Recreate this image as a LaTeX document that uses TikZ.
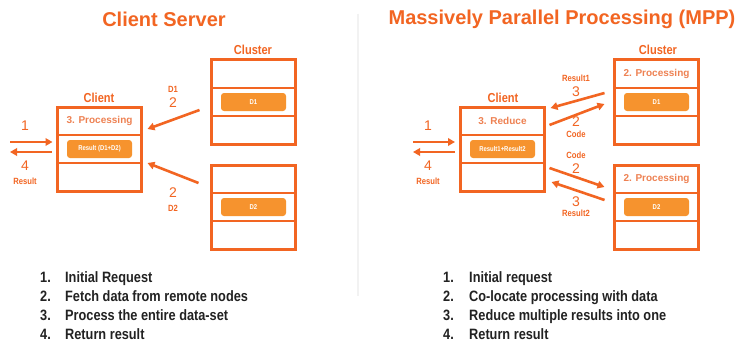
\documentclass[tikz,border=0pt]{standalone}
\usepackage{fontspec}
\setmainfont{Liberation Sans}
\newfontfamily\narrowfont[FakeStretch=0.85]{Liberation Sans}
\usetikzlibrary{positioning,arrows.meta}

\definecolor{mppline}{HTML}{F26522}
\definecolor{mpppill}{HTML}{F6932E}
\definecolor{mppcell}{HTML}{EE8152}
\definecolor{mpplist}{HTML}{222222}

\tikzset{
  cell/.style={draw=mppline, line width=2pt, minimum width=84pt, minimum height=28pt,
    inner sep=0pt, outer sep=0pt, text=mppcell, font=\bfseries\fontsize{10}{12}\selectfont},
  boxframe/.style={draw=mppline, line width=3pt},
  pill/.style={fill=mpppill, rounded corners=3pt, minimum width=65pt, minimum height=18pt,
    inner sep=0pt, text=white, font=\narrowfont\bfseries\fontsize{7}{8}\selectfont},
  flow/.style={->, draw=mppline, line width=2.6pt},
  heading/.style={text=mppline, font=\bfseries\fontsize{20}{24}\selectfont},
  head/.style={text=mppline, font=\narrowfont\bfseries\fontsize{13}{15}\selectfont, inner sep=0pt},
  tag/.style={text=mppline, font=\narrowfont\bfseries\fontsize{9}{10}\selectfont, inner sep=0pt},
  num/.style={text=mppline, font=\fontsize{14}{16}\selectfont, inner sep=0pt},
  item/.style={text=mpplist, anchor=base west, inner sep=0pt,
    font=\narrowfont\bfseries\fontsize{15}{18}\selectfont},
}

\begin{document}
\begin{tikzpicture}[x=1pt, y=-1pt, >={Triangle[length=7pt,width=7.5pt]}]
    \fill[white] (0,0) rectangle (755,345);
    \useasboundingbox (0,0) rectangle (755,345);

    % Divider
    \draw[gray!10, line width=1.5pt] (358,14) -- (358,296);

    % ---- Client Server ----
    \node[heading] (ltitle) at (164,19) {Client Server};

    % Client
    \node[cell] (lcla) at (99.5,121) {3. Processing};
    \node[cell, below=0pt of lcla] (lclb) {};
    \node[cell, below=0pt of lclb] (lclc) {};
    \draw[boxframe] (lcla.north west) rectangle (lclc.south east);
    \node[pill] (lsum) at (lclb) {Result (D1+D2)};
    \node[head] (lclient) at (99,98) {Client};

    % Cluster
    \node[head] (lcluster) at (253,50) {Cluster};
    \node[cell] (lc1a) at (253.5,74) {};
    \node[cell, below=0pt of lc1a] (lc1b) {};
    \node[cell, below=0pt of lc1b] (lc1c) {};
    \draw[boxframe] (lc1a.north west) rectangle (lc1c.south east);
    \node[pill] (ld1) at (lc1b) {D1};

    \node[cell] (lc2a) at (253.5,179) {};
    \node[cell, below=0pt of lc2a] (lc2b) {};
    \node[cell, below=0pt of lc2b] (lc2c) {};
    \draw[boxframe] (lc2a.north west) rectangle (lc2c.south east);
    \node[pill] (ld2) at (lc2b) {D2};

    % Fetch data
    \draw[flow] ([xshift=-12pt,yshift=-8pt]lc1b.west) -- ([xshift=6pt,yshift=-8pt]lcla.east);
    \draw[flow] ([xshift=-13pt,yshift=-4pt]lc2a.west) -- ([xshift=6pt]lclb.south east);
    \node[tag] (lfd1) at (173,89) {D1};
    \node[num] (lfn1) at (173,103) {2};
    \node[num] (lfn2) at (173,193) {2};
    \node[tag] (lfd2) at (173,208) {D2};

    % Request / result
    \coordinate (lreq) at (10,142);
    \coordinate (lrep) at (10,152);
    \draw[flow] (lreq) -- ([xshift=-5pt,yshift=7pt]lclb.west);
    \draw[flow] ([xshift=-6pt,yshift=-3pt]lclb.west) -- (lrep);
    \node[num] (lqn) at (25,126) {1};
    \node[num] (lrn) at (25,166) {4};
    \node[tag] (lrt) at (25,181) {Result};

    % Steps
    \foreach \t [count=\i] in {Initial Request, Fetch data from remote nodes,
        Process the entire data-set, Return result} {
      \node[item] (lnum\i) at (40,{263+19*\i}) {\i.};
      \node[item] (ltxt\i) at (65,{263+19*\i}) {\t};
    }

    % ---- MPP ----
    \node[heading] (rtitle) at (562,19) {Massively Parallel Processing (MPP)};

    % Client
    \node[cell] (rcla) at (502.5,121) {3. Reduce};
    \node[cell, below=0pt of rcla] (rclb) {};
    \node[cell, below=0pt of rclb] (rclc) {};
    \draw[boxframe] (rcla.north west) rectangle (rclc.south east);
    \node[pill] (rsum) at (rclb) {Result1+Result2};
    \node[head] (rclient) at (503,98) {Client};

    % Cluster
    \node[head] (rcluster) at (658,50) {Cluster};
    \node[cell] (rc1a) at (656.5,74) {2. Processing};
    \node[cell, below=0pt of rc1a] (rc1b) {};
    \node[cell, below=0pt of rc1b] (rc1c) {};
    \draw[boxframe] (rc1a.north west) rectangle (rc1c.south east);
    \node[pill] (rd1) at (rc1b) {D1};

    \node[cell] (rc2a) at (656.5,179) {2. Processing};
    \node[cell, below=0pt of rc2a] (rc2b) {};
    \node[cell, below=0pt of rc2b] (rc2c) {};
    \draw[boxframe] (rc2a.north west) rectangle (rc2c.south east);
    \node[pill] (rd2) at (rc2b) {D2};

    % Code out, results back
    \draw[flow] ([xshift=-10pt,yshift=-5pt]rc1a.south west) -- ([xshift=6pt,yshift=-1pt]rcla.north east);
    \draw[flow] ([xshift=5pt,yshift=-4pt]rcla.east) -- ([xshift=-10pt,yshift=-2pt]rc1b.west);
    \draw[flow] ([xshift=5pt,yshift=-5pt]rclb.south east) -- ([xshift=-10pt,yshift=-8pt]rc2a.west);
    \draw[flow] ([xshift=-10pt,yshift=-7pt]rc2b.north west) -- ([xshift=7pt,yshift=-5pt]rclc.east);
    \node[tag] (rr1) at (576,78.5) {Result1};
    \node[num] (rn3a) at (576,92) {3};
    \node[num] (rn2a) at (576,121.5) {2};
    \node[tag] (rc1) at (576,134) {Code};
    \node[tag] (rc2) at (576,155) {Code};
    \node[num] (rn2b) at (576,169) {2};
    \node[num] (rn3b) at (576,202) {3};
    \node[tag] (rr2) at (576,213.5) {Result2};

    % Request / result
    \coordinate (rreq) at (413,142);
    \coordinate (rrep) at (413,152);
    \draw[flow] (rreq) -- ([xshift=-5.5pt,yshift=7pt]rclb.west);
    \draw[flow] ([xshift=-5.5pt,yshift=-3pt]rclb.west) -- (rrep);
    \node[num] (rqn) at (428,126) {1};
    \node[num] (rrn) at (428,166) {4};
    \node[tag] (rrt) at (428,181) {Result};

    % Steps
    \foreach \t [count=\i] in {Initial request, Co-locate processing with data,
        Reduce multiple results into one, Return result} {
      \node[item] (rnum\i) at (443,{263+19*\i}) {\i.};
      \node[item] (rtxt\i) at (469,{263+19*\i}) {\t};
    }
\end{tikzpicture}
\end{document}
